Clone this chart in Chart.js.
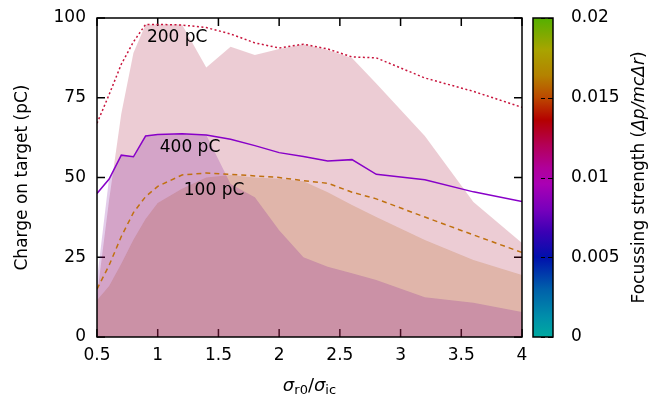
<!DOCTYPE html>
<html>
<head>
<meta charset="utf-8">
<script src="https://cdn.jsdelivr.net/npm/chart.js@4.4.1/dist/chart.umd.min.js"></script>
<style>
  html, body { margin: 0; padding: 0; background: #fff; }
</style>
</head>
<body>
<canvas id="chart" width="661" height="401"></canvas>
<script>
// beam size ratio sigma_r0 / sigma_ic
const sigmaRatio = [0.5, 0.6, 0.7, 0.8, 0.9, 1.0, 1.2, 1.4, 1.6, 1.8, 2.0, 2.2, 2.4, 2.6, 2.8, 3.2, 3.6, 4.0];
const ratioTickLabels = ["0.5", "1", "1.5", "2", "2.5", "3", "3.5", "4"];

// charge on target (pC), one curve per bunch charge
const charge200 = [67, 76, 85.5, 92.5, 98, 98, 97.8, 97, 95, 92.2, 90.6, 91.8, 90.3, 87.8, 87.5, 81.2, 77, 72];
const charge400 = [45, 49.5, 57, 56.5, 63, 63.5, 63.7, 63.3, 62, 60, 57.8, 56.6, 55.2, 55.6, 51, 49.3, 45.5, 42.5];
const charge100 = [15, 22.5, 31.5, 39, 44, 47.2, 50.8, 51.4, 51, 50.5, 50, 49, 48.2, 45.4, 43.3, 37.6, 32, 26.5];

// shaded bands
const band200 = [13, 43, 70, 89, 98, 98, 98, 84.5, 91, 88.4, 90.3, 91.8, 90, 87.5, 79.5, 63, 42.3, 29.5];
const band100 = [11.5, 16, 23, 30.5, 37, 42, 46.5, 50, 50.8, 50, 49.6, 48.8, 45.4, 41.4, 37.6, 30.4, 24.1, 19.4];
const band400 = [18, 50, 57, 56.5, 63, 63.5, 63.7, 63.3, 48, 43.8, 33.5, 25, 22, 20, 17.9, 12.5, 10.7, 7.8];

// colour bar range and tick labels
const focusMin = 0;
const focusMax = 0.02;
const focusTickLabels = ["0", "0.005", "0.01", "0.015", "0.02"];

// curve labels: text and data position
const curveLabels = [
  { text: "200 pC", x: 1.16, y: 94 },
  { text: "400 pC", x: 1.266, y: 59.4 },
  { text: "100 pC", x: 1.464, y: 46 }
];

const FONT = "DejaVu Sans";
Chart.defaults.font.family = FONT;
Chart.defaults.font.size = 17;
Chart.defaults.color = "#000";

const palette = [
  [0.0, "#00aaa0"], [0.06, "#0090aa"], [0.15, "#0060aa"], [0.25, "#0010ac"],
  [0.33, "#3c00b4"], [0.4, "#7800bc"], [0.48, "#aa00b4"], [0.53, "#b0009a"],
  [0.6, "#b40058"], [0.68, "#b40000"], [0.75, "#bc4800"], [0.82, "#b48200"],
  [0.9, "#a8a400"], [1.0, "#54b000"]
];

function points(ys) {
  return sigmaRatio.map((x, i) => ({ x: x, y: ys[i] }));
}

function bandSet(ys, color, order) {
  return {
    data: points(ys), order: order, fill: "origin",
    backgroundColor: color, borderWidth: 0, pointRadius: 0
  };
}

function lineSet(ys, color, dash, order) {
  return {
    data: points(ys), order: order, fill: false,
    borderColor: color, borderWidth: 1.5, borderDash: dash,
    pointRadius: 0, tension: 0
  };
}

// draw text made of runs in different fonts, centred on (x, y)
function richText(ctx, parts, x, y, rotation) {
  ctx.save();
  ctx.translate(x, y);
  ctx.rotate(rotation);
  ctx.textBaseline = "middle";
  ctx.textAlign = "left";
  ctx.fillStyle = "#000";
  let total = 0;
  for (const p of parts) {
    ctx.font = p.font;
    p.w = ctx.measureText(p.text).width;
    total += p.w;
  }
  let cx = -total / 2;
  for (const p of parts) {
    ctx.font = p.font;
    ctx.fillText(p.text, cx, p.dy || 0);
    cx += p.w;
  }
  ctx.restore();
}

const framePlugin = {
  id: "frame",
  beforeDatasetsDraw(chart) {
    // inward ticks on all four sides, under the shading
    const { ctx, chartArea: a, scales } = chart;
    ctx.save();
    ctx.strokeStyle = "#000";
    ctx.lineWidth = 1.5;
    ctx.beginPath();
    for (const t of scales.x.ticks) {
      const px = scales.x.getPixelForValue(t.value);
      ctx.moveTo(px, a.bottom); ctx.lineTo(px, a.bottom - 8);
      ctx.moveTo(px, a.top); ctx.lineTo(px, a.top + 8);
    }
    for (const t of scales.y.ticks) {
      const py = scales.y.getPixelForValue(t.value);
      ctx.moveTo(a.left, py); ctx.lineTo(a.left + 8, py);
      ctx.moveTo(a.right, py); ctx.lineTo(a.right - 8, py);
    }
    ctx.stroke();
    ctx.restore();
  },
  afterDatasetsDraw(chart) {
    const { ctx, chartArea: a, scales } = chart;
    ctx.save();
    ctx.strokeStyle = "#000";
    ctx.lineWidth = 1.5;
    ctx.strokeRect(a.left, a.top, a.right - a.left, a.bottom - a.top);

    ctx.font = "17px " + FONT;
    ctx.textAlign = "center";
    ctx.textBaseline = "middle";
    ctx.fillStyle = "#000";
    for (const l of curveLabels) {
      ctx.fillText(l.text, scales.x.getPixelForValue(l.x), scales.y.getPixelForValue(l.y));
    }
    ctx.restore();
  },
  afterDraw(chart) {
    const { ctx, chartArea: a, scales } = chart;
    const cb = scales.y2;
    const left = cb.left + 11, width = 20;
    const top = cb.top, bottom = cb.bottom;

    ctx.save();
    const grad = ctx.createLinearGradient(0, bottom, 0, top);
    for (const [f, c] of palette) grad.addColorStop(f, c);
    ctx.fillStyle = grad;
    ctx.fillRect(left, top, width, bottom - top);

    ctx.strokeStyle = "#000";
    ctx.lineWidth = 1;
    ctx.setLineDash([5, 3]);
    ctx.beginPath();
    for (const t of cb.ticks) {
      const py = Math.round(cb.getPixelForValue(t.value)) + 0.5;
      ctx.moveTo(left + width, py); ctx.lineTo(left + 8, py);
    }
    ctx.stroke();
    ctx.setLineDash([]);
    ctx.lineWidth = 1.5;
    ctx.strokeRect(left, top, width, bottom - top);
    ctx.restore();

    // x axis title
    const midX = (a.left + a.right) / 2;
    richText(ctx, [
      { text: "\u03c3", font: "italic 18px " + FONT },
      { text: "r0", font: "13px " + FONT, dy: 5 },
      { text: "/", font: "18px " + FONT },
      { text: "\u03c3", font: "italic 18px " + FONT },
      { text: "ic", font: "13px " + FONT, dy: 5 }
    ], midX, 386, 0);

    // colour bar title
    richText(ctx, [
      { text: "Focussing strength (", font: "17px " + FONT },
      { text: "\u0394p/mc\u0394r", font: "italic 17px " + FONT },
      { text: ")", font: "17px " + FONT }
    ], 640, (a.top + a.bottom) / 2, -Math.PI / 2);
  }
};

// hidden tick marks of a given length are used as label offset
function offsetGrid(len) {
  return { display: false, drawTicks: true, tickLength: len };
}

new Chart(document.getElementById("chart"), {
  type: "line",
  data: {
    datasets: [
      lineSet(charge200, "#c8143c", [2, 2.5], 1),
      lineSet(charge400, "#8800c8", [], 2),
      lineSet(charge100, "#c07010", [5, 4], 3),
      bandSet(band400, "rgba(116, 0, 152, 0.2)", 4),
      bandSet(band100, "rgba(176, 84, 0, 0.2)", 5),
      bandSet(band200, "rgba(160, 0, 40, 0.2)", 6)
    ]
  },
  options: {
    responsive: false,
    animation: false,
    devicePixelRatio: 1,
    layout: { padding: { top: 18 } },
    plugins: { legend: { display: false }, tooltip: { enabled: false } },
    scales: {
      x: {
        type: "linear", min: 0.5, max: 4,
        ticks: {
          stepSize: 0.5, padding: 0,
          callback: (v, i) => ratioTickLabels[i]
        },
        grid: offsetGrid(8),
        border: { display: false },
        afterFit(scale) { scale.height = 64; }
      },
      y: {
        min: 0, max: 100,
        ticks: { stepSize: 25, padding: 0 },
        grid: offsetGrid(11),
        border: { display: false },
        title: { display: true, text: "Charge on target (pC)", padding: { top: 12, bottom: 0 } },
        afterFit(scale) { scale.width = 97; }
      },
      y2: {
        position: "right", min: focusMin, max: focusMax,
        ticks: {
          stepSize: 0.005, padding: 0,
          callback: (v, i) => focusTickLabels[i]
        },
        grid: offsetGrid(49),
        border: { display: false },
        afterFit(scale) { scale.width = 139; }
      }
    }
  },
  plugins: [framePlugin]
});
</script>
</body>
</html>
